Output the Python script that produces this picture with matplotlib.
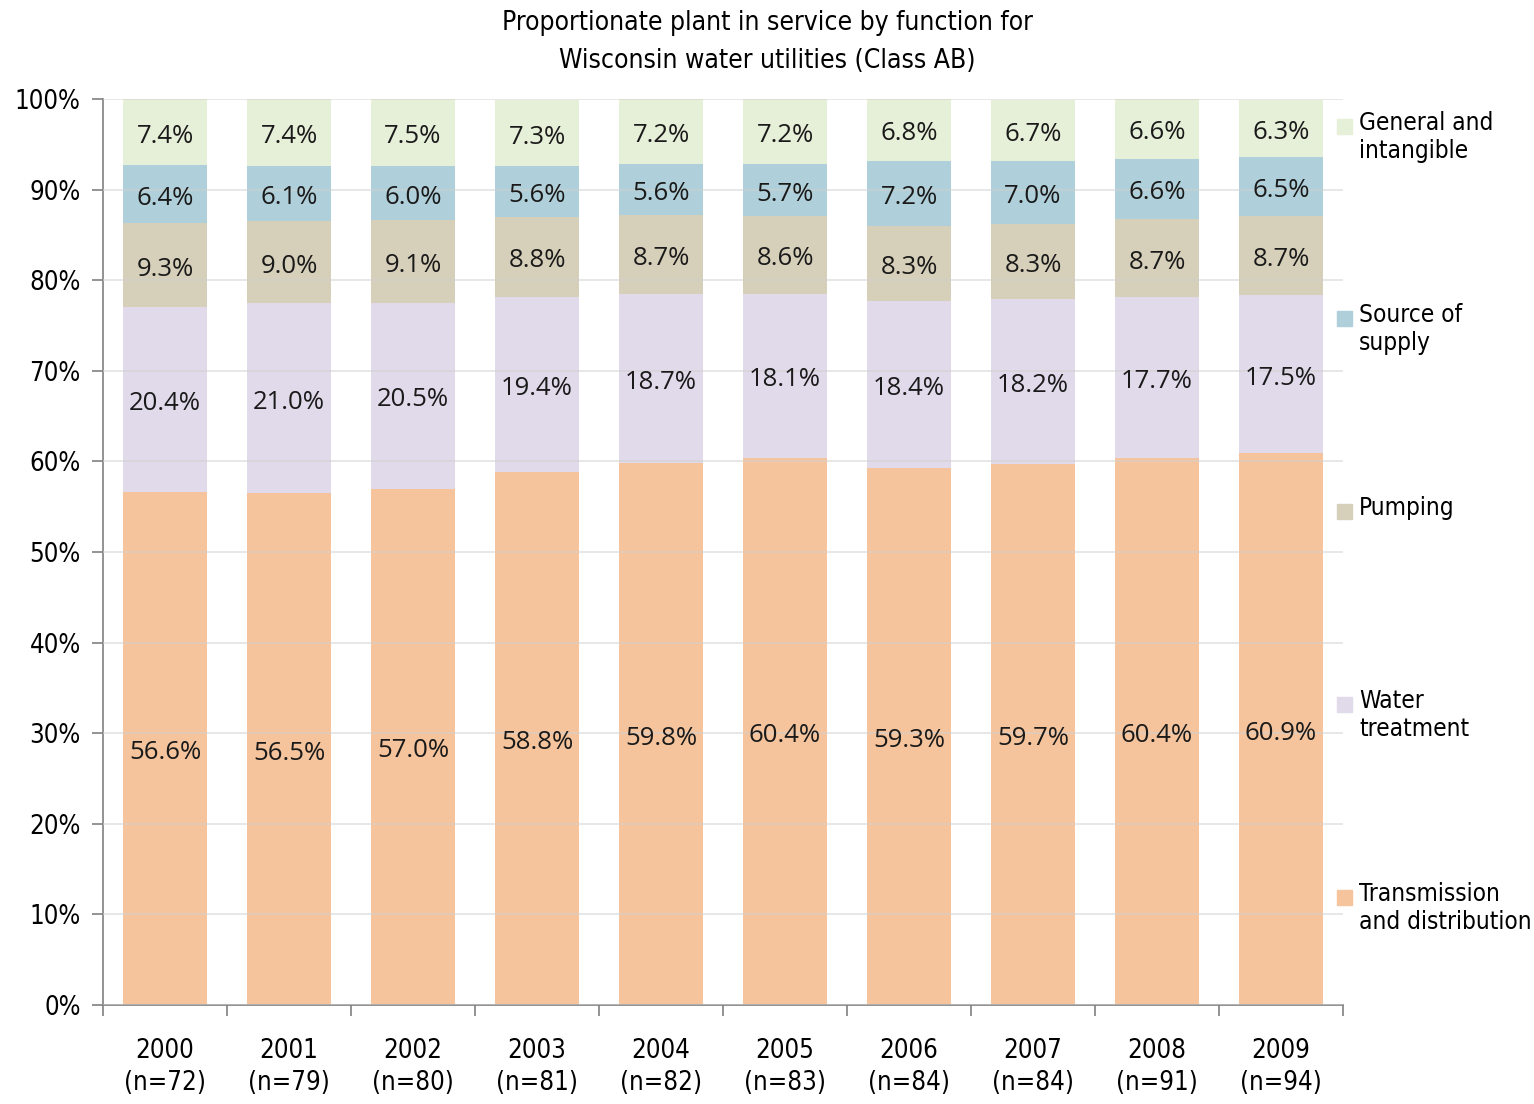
import matplotlib
matplotlib.use("Agg")
import matplotlib.pyplot as plt
import numpy as np
from matplotlib import font_manager

years = ["2000", "2001", "2002", "2003", "2004", "2005", "2006", "2007", "2008", "2009"]
counts = [72, 79, 80, 81, 82, 83, 84, 84, 91, 94]
transmission = [56.6, 56.5, 57.0, 58.8, 59.8, 60.4, 59.3, 59.7, 60.4, 60.9]
water_treatment = [20.4, 21.0, 20.5, 19.4, 18.7, 18.1, 18.4, 18.2, 17.7, 17.5]
pumping = [9.3, 9.0, 9.1, 8.8, 8.7, 8.6, 8.3, 8.3, 8.7, 8.7]
source_supply = [6.4, 6.1, 6.0, 5.6, 5.6, 5.7, 7.2, 7.0, 6.6, 6.5]
general = [7.4, 7.4, 7.5, 7.3, 7.2, 7.2, 6.8, 6.7, 6.6, 6.3]

series = [transmission, water_treatment, pumping, source_supply, general]
names = ["Transmission\nand distribution", "Water\ntreatment", "Pumping",
         "Source of\nsupply", "General and\nintangible"]
colors = ["#F5C49C", "#E0DAEA", "#D6CFB9", "#AFD0DA", "#E6EFD8"]

avail = {f.name for f in font_manager.fontManager.ttflist}
if "Liberation Sans Narrow" in avail:
    narrow = dict(family=["Liberation Sans Narrow", "DejaVu Sans"])
else:
    narrow = dict(family=["DejaVu Sans"], stretch="condensed")
labfont = dict(family=["Open Sans", "DejaVu Sans"])

fig = plt.figure(figsize=(15.34, 11.04), dpi=100)
ax = fig.add_axes([103/1534, 1 - 1005/1104, (1343-103)/1534, (1005-99)/1104])

x = np.arange(len(years))
ax.set_xlim(-0.5, len(years) - 0.5)
ax.set_ylim(0, 100)
ax.set_yticks(np.arange(0, 101, 10))
ax.yaxis.grid(True, color="#D0D0D0", linewidth=1.2, zorder=3, alpha=0.6)
ax.set_axisbelow(False)

bottom = np.zeros(len(years))
for vals, col in zip(series, colors):
    v = np.array(vals)
    top = np.minimum(bottom + v, 100)
    ax.bar(x, top - bottom, bottom=bottom, width=0.67, color=col, zorder=2, linewidth=0)
    for xi, b, t, val in zip(x, bottom, top, vals):
        ax.text(xi, (b + t) / 2 - 0.45, f"{val:.1f}%", ha="center", va="center",
                fontsize=18.5, color="#1a1a1a", zorder=5, **labfont)
    bottom = top

ax.set_yticklabels([f"{v}%" for v in range(0, 101, 10)], fontsize=18.5, **narrow)
ax.set_xticks(np.arange(-0.5, len(years), 1.0))
ax.set_xticklabels([])
ax.tick_params(axis="x", length=8, color="#808080", width=1.2, direction="out")
ax.tick_params(axis="y", length=8, color="#808080", width=1.2, direction="out", pad=8)
for xi, yr, n in zip(x, years, counts):
    ax.text(xi, -3.6, f"{yr}\n(n={n})", ha="center", va="top", fontsize=18.5,
            transform=ax.transData, linespacing=1.3, **narrow)

for s in ["top", "right"]:
    ax.spines[s].set_visible(False)
for s in ["left", "bottom"]:
    ax.spines[s].set_color("#808080")
    ax.spines[s].set_linewidth(1.2)

fig.text(0.5, 1 - 23/1104, "Proportionate plant in service by function for",
         ha="center", va="center", fontsize=19, **narrow)
fig.text(0.5, 1 - 61/1104, "Wisconsin water utilities (Class AB)",
         ha="center", va="center", fontsize=19, **narrow)

# legend
leg_y = [897, 704, 511, 318, 126]
for nm, col, yy in zip(names, colors, leg_y):
    fig.patches.append(plt.Rectangle((1337/1534, 1 - (yy + 8)/1104), 15/1534, 15/1104,
                                     transform=fig.transFigure, color=col))
    fig.text(1359/1534, 1 - (yy - 15)/1104, nm, ha="left", va="top", fontsize=17.5,
             linespacing=1.2, **narrow)

fig.savefig("out.png", dpi=100)
